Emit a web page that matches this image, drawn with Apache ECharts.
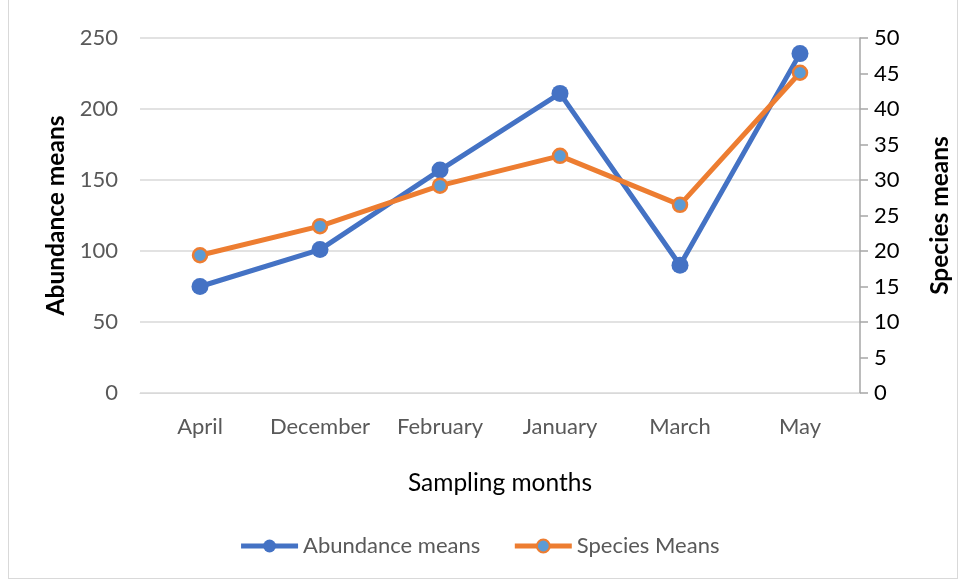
<!DOCTYPE html>
<html>
<head>
<meta charset="utf-8">
<script src="https://cdn.jsdelivr.net/npm/echarts@6/dist/echarts.min.js"></script>
<style>
  html, body { margin: 0; padding: 0; background: #fff; }
  #box { position: absolute; left: 8px; top: 0; width: 948px; height: 578px; border: 1px solid #d9d9d9; border-top: none; }
  #chart { width: 958px; height: 582px; }
</style>
</head>
<body>
<div id="box"></div>
<div id="chart"></div>
<script>
  const months = ['April', 'December', 'February', 'January', 'March', 'May'];
  const abundance = [75, 101, 157, 211, 90, 239];
  const species = [19.4, 23.5, 29.2, 33.4, 26.5, 45.1];

  const chart = echarts.init(document.getElementById('chart'));
  const font = 'Lato, Open Sans, sans-serif';
  chart.setOption({
    animation: false,
    textStyle: { fontFamily: font },
    grid: { left: 140, right: 98, top: 38, bottom: 189, outerBoundsMode: 'none' },
    legend: {
      bottom: 20,
      left: 'center',
      itemWidth: 57,
      itemHeight: 16,
      itemGap: 32,
      textStyle: { fontSize: 22, color: '#595959', fontFamily: font },
      lineStyle: { width: 5 },
      data: ['Abundance means', 'Species Means']
    },
    xAxis: {
      type: 'category',
      data: months,
      name: 'Sampling months',
      nameLocation: 'middle',
      nameGap: 78,
      nameTextStyle: { fontSize: 24.5, color: '#000' },
      axisLine: { lineStyle: { color: '#d9d9d9' } },
      axisTick: { show: false },
      axisLabel: { fontSize: 22, color: '#595959', margin: 23, interval: 0 }
    },
    yAxis: [
      {
        type: 'value',
        min: 0, max: 250, interval: 50,
        name: 'Abundance means',
        nameLocation: 'middle',
        nameGap: 68,
        nameTextStyle: { fontSize: 24.5, fontWeight: 'bold', color: '#000' },
        axisLine: { show: false },
        axisTick: { show: false },
        axisLabel: { fontSize: 22, color: '#595959', margin: 22 },
        splitLine: { lineStyle: { color: '#d9d9d9', width: 1.5 } }
      },
      {
        type: 'value',
        min: 0, max: 50, interval: 5,
        name: 'Species means',
        nameLocation: 'middle',
        nameGap: 68,
        nameRotate: 90,
        nameTextStyle: { fontSize: 24.5, fontWeight: 'bold', color: '#000' },
        axisLine: { show: true, lineStyle: { color: '#a6a6a6', width: 1.5 } },
        axisTick: { show: true, length: 8, lineStyle: { color: '#a6a6a6', width: 1.5 } },
        axisLabel: { fontSize: 22, color: '#000', margin: 14 },
        splitLine: { show: false }
      }
    ],
    series: [
      {
        name: 'Abundance means',
        type: 'line',
        yAxisIndex: 0,
        data: abundance,
        symbol: 'circle',
        symbolSize: 17,
        lineStyle: { color: '#4472C4', width: 5 },
        itemStyle: { color: '#4472C4' },
        z: 2
      },
      {
        name: 'Species Means',
        type: 'line',
        yAxisIndex: 1,
        data: species,
        symbol: 'circle',
        symbolSize: 14,
        lineStyle: { color: '#ED7D31', width: 5 },
        itemStyle: { color: '#5B9BD5', borderColor: '#ED7D31', borderWidth: 2.5 },
        z: 3
      }
    ]
  });
</script>
</body>
</html>
